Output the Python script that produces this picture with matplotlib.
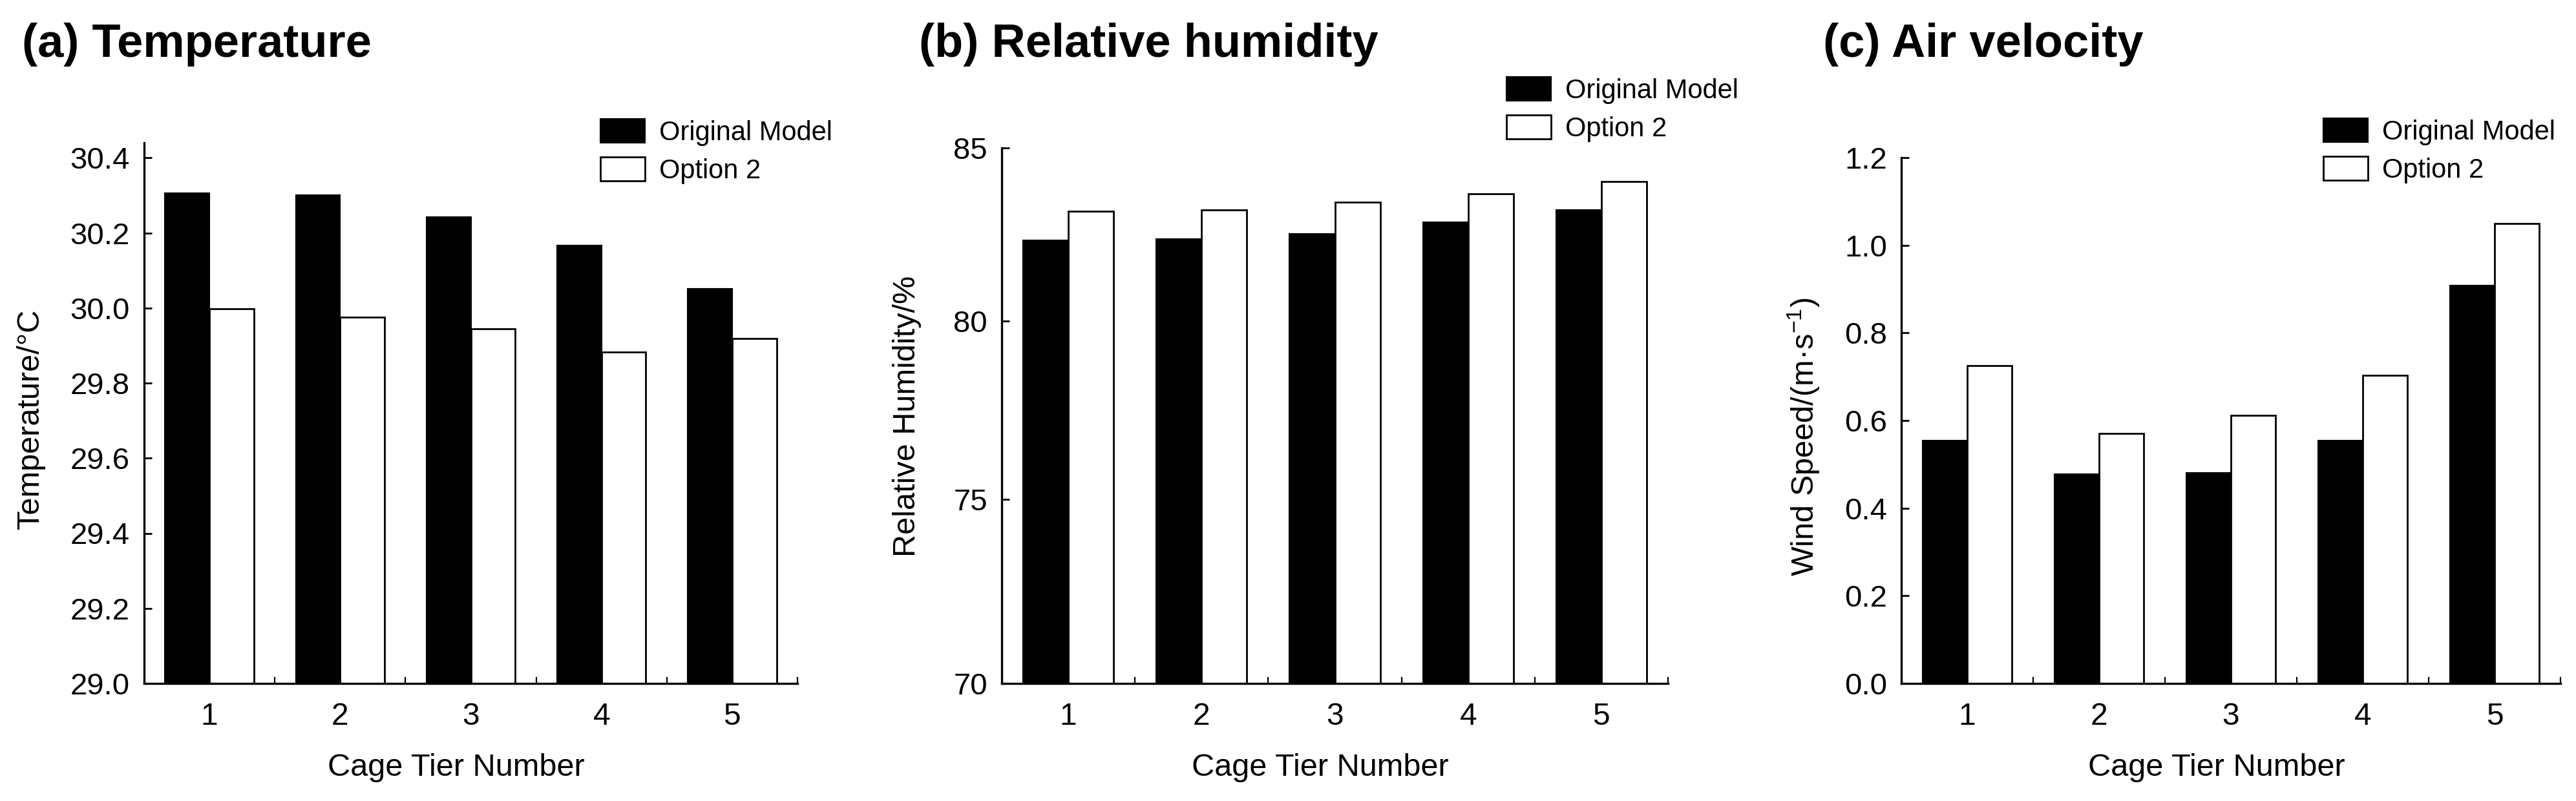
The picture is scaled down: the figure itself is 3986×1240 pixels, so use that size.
import numpy as np
import matplotlib
matplotlib.use('Agg')
import matplotlib.pyplot as plt
from matplotlib.ticker import FixedLocator, FormatStrFormatter, NullFormatter

# ---------------- data ----------------
tiers = [1, 2, 3, 4, 5]
tier_labels = ['1', '2', '3', '4', '5']
series_names = ['Original Model', 'Option 2']

temp_original = [30.306, 30.300, 30.243, 30.167, 30.052]
temp_option2 = [29.997, 29.975, 29.945, 29.883, 29.919]

rh_original = [82.31, 82.34, 82.50, 82.83, 83.19]
rh_option2 = [83.16, 83.19, 83.41, 83.65, 84.01]

ws_original = [0.554, 0.477, 0.480, 0.554, 0.908]
ws_option2 = [0.726, 0.570, 0.612, 0.703, 1.049]

temp_ticks = [29.0, 29.2, 29.4, 29.6, 29.8, 30.0, 30.2, 30.4]
rh_ticks = [70, 75, 80, 85]
ws_ticks = [0.0, 0.2, 0.4, 0.6, 0.8, 1.0, 1.2]

titles = ['(a) Temperature', '(b) Relative humidity', '(c) Air velocity']
ylabels = ['Temperature/°C', 'Relative Humidity/%', r'Wind Speed/(m·s$^{-1}$)']
xlabel = 'Cage Tier Number'

# ---------------- style ----------------
plt.rcParams['font.family'] = ['Liberation Sans', 'DejaVu Sans']
plt.rcParams['mathtext.fontset'] = 'custom'
plt.rcParams['mathtext.rm'] = 'Liberation Sans'
plt.rcParams['mathtext.it'] = 'Liberation Sans'
plt.rcParams['mathtext.default'] = 'regular'

W, H = 3986, 1240
fig = plt.figure(figsize=(W / 100, H / 100), dpi=100)
fig.patch.set_facecolor('white')

# axes rectangles in pixels: left, right, top (bottom is shared)
bottom_px = 1058
rects = [(223, 1234, 221), (1550, 2581, 229), (2942, 3962, 244)]
title_x = [34, 1422, 2821]
legend_pos = [(929, 184), (2331, 119), (3595, 183)]
ylabel_x = [-0.151, -0.120, -0.121]
ylabel_y = [0.489, 0.499, 0.469]

BW = 0.34
data = [(temp_original, temp_option2), (rh_original, rh_option2), (ws_original, ws_option2)]
ylims = [(29.0, 30.44), (70, 85), (0.0, 1.2)]
yticks = [temp_ticks, rh_ticks, ws_ticks]

for i in range(3):
    l, r, t = rects[i]
    ax = fig.add_axes([l / W, 1 - bottom_px / H, (r - l) / W, (bottom_px - t) / H])
    if i == 1:
        ax.set_yscale('function', functions=(np.sqrt, np.square))
    orig, opt = data[i]
    b1 = ax.bar(tiers, orig, width=-BW, align='edge', color='black',
                edgecolor='black', linewidth=1.5, label=series_names[0])
    b2 = ax.bar(tiers, opt, width=BW, align='edge', color='white',
                edgecolor='black', linewidth=2.0, label=series_names[1])
    ax.set_xlim(0.5, 5.5)
    ax.set_ylim(*ylims[i])

    for s in ['top', 'right']:
        ax.spines[s].set_visible(False)
    for s in ['left', 'bottom']:
        ax.spines[s].set_linewidth(2.4)

    ax.xaxis.set_major_locator(FixedLocator(tiers))
    ax.set_xticklabels(tier_labels)
    ax.xaxis.set_minor_locator(FixedLocator([1.5, 2.5, 3.5, 4.5, 5.5]))
    ax.xaxis.set_minor_formatter(NullFormatter())
    ax.tick_params(axis='x', which='major', length=0, pad=21, labelsize=34.5)
    ax.tick_params(axis='x', which='minor', direction='in', length=7, width=1.6)

    ax.yaxis.set_major_locator(FixedLocator(yticks[i]))
    ax.yaxis.set_minor_locator(FixedLocator([]))
    if i == 1:
        ax.yaxis.set_major_formatter(FormatStrFormatter('%d'))
    else:
        ax.yaxis.set_major_formatter(FormatStrFormatter('%.1f'))
    ax.tick_params(axis='y', which='major', direction='in', length=8.5, width=2.0,
                   pad=16, labelsize=34)

    ax.set_ylabel(ylabels[i], fontsize=35)
    ax.yaxis.set_label_coords(ylabel_x[i], ylabel_y[i])
    ax.set_xlabel(xlabel, fontsize=35)
    ax.xaxis.set_label_coords(0.478, -(1166 - bottom_px) / (bottom_px - t))

    fig.text(title_x[i] / W, 1 - 88 / H, titles[i], fontsize=52, fontweight='bold',
             ha='left', va='baseline')

    lx, ly = legend_pos[i]
    ax.legend(handles=[b1, b2], labels=series_names, loc='upper left',
              bbox_to_anchor=(lx / W, 1 - ly / H), bbox_transform=fig.transFigure,
              frameon=False, fontsize=30, handlelength=1.65, handleheight=1.0,
              handletextpad=0.53, labelspacing=0.41, borderpad=0, borderaxespad=0)

fig.savefig('out.png', dpi=100, facecolor='white')
